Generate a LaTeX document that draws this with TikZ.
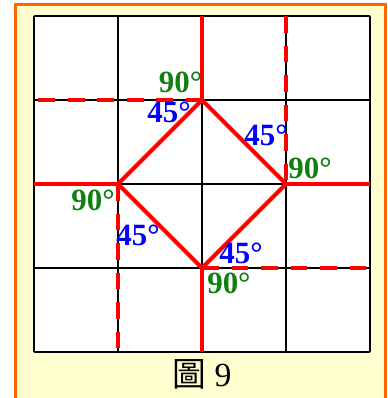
\documentclass[tikz,border=0pt]{standalone}
\usepackage{fontspec}
\setmainfont{Liberation Serif}
\newfontfamily\cjk{Noto Sans CJK TC}
\usepackage{xcolor}
\usepackage{tikz}
\definecolor{frameor}{RGB}{255,102,0}
\definecolor{paper}{RGB}{255,255,208}
\definecolor{redln}{RGB}{255,0,0}
\definecolor{angg}{RGB}{16,128,16}
\definecolor{angb}{RGB}{0,0,255}
\tikzset{
  grd/.style  ={draw=black, line width=1.5pt},
  rsol/.style ={draw=redln, line width=2.8pt},
  rdash/.style={draw=redln, line width=2.8pt, dash pattern=on 12pt off 9pt},
  ang/.style  ={font=\fontsize{22}{22}\selectfont\bfseries, inner sep=0pt},
  rt/.style   ={ang, text=angg},
  ac/.style   ={ang, text=angb},
}

\begin{document}
\begin{tikzpicture}[x=2.1cm,y=2.1cm]
  \useasboundingbox (-0.4048,-0.5476) rectangle (4.2024,4.1905);
  % frame
  \fill[paper] (-0.2202,-0.6) rectangle (4.1845,4.1369);
  \draw[draw=frameor,line width=2.13pt] (-0.2202,-0.6) -- (-0.2202,4.1369) -- (4.1845,4.1369) -- (4.1845,-0.6);
  \fill[white] (0,0) rectangle (4,4);
  % grid
  \foreach \k in {0,...,4} {
    \draw[grd] (\k,0) -- (\k,4);
    \draw[grd] (0,\k) -- (4,\k);
  }
  % dashed folds
  \draw[rdash] (0.05,3) -- (2,3);
  \draw[rdash] (3,4) -- (3,2);
  \draw[rdash] (1,2) -- (1,0);
  \draw[rdash] (2,1) -- (4,1);
  % solid folds
  \draw[rsol] (2,4) -- (2,3);
  \draw[rsol] (2,1) -- (2,0);
  \draw[rsol] (0,2) -- (1,2);
  \draw[rsol] (3,2) -- (4,2);
  \draw[rsol,line join=miter] (2,3) -- (3,2) -- (2,1) -- (1,2) -- cycle;
  % angles
  \node[rt] (r1) at (1.745,3.205) {90°};
  \node[ac] (a1) at (1.607,2.855) {45°};
  \node[ac] (a2) at (2.762,2.583) {45°};
  \node[rt] (r2) at (3.286,2.190) {90°};
  \node[rt] (r3) at (0.702,1.810) {90°};
  \node[ac] (a3) at (1.238,1.393) {45°};
  \node[ac] (a4) at (2.464,1.179) {45°};
  \node[rt] (r4) at (2.321,0.821) {90°};
  % caption
  \node[font=\fontsize{24}{24}\selectfont,inner sep=0pt] (cap) at (2.0,-0.262) {{\cjk 圖} 9};
\end{tikzpicture}
\end{document}
